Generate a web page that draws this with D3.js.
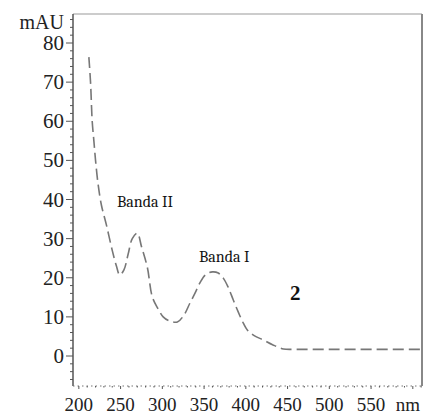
<!DOCTYPE html>
<html>
<head>
<meta charset="utf-8">
<script src="https://cdn.jsdelivr.net/npm/d3@7"></script>
<style>
  body { margin: 0; background: #fff; }
</style>
</head>
<body>
<svg width="431" height="416"></svg>
<script>
// spectrum (nm, mAU)
let wavelength = [212, 214, 216, 218, 220, 223, 227, 233, 240, 245, 249, 254, 259, 264, 270, 275, 282, 288, 295, 301, 308, 318, 326, 333, 339, 345, 352, 360, 367, 373, 379, 385, 391, 397, 402, 410, 421, 432, 445, 460, 500, 550, 611];
let absorb = [76.4, 70, 60, 55, 50, 44, 38.6, 33.5, 27, 23, 20.7, 22, 26, 30, 31.4, 28, 22.7, 15.1, 12, 10, 9, 8.7, 10.5, 13.5, 16, 18.7, 20.8, 21.5, 21.2, 19.9, 17.5, 14.3, 11.2, 8.4, 6.6, 5.2, 4.1, 2.9, 1.8, 1.7, 1.7, 1.7, 1.7];

let yTicks = [0, 10, 20, 30, 40, 50, 60, 70, 80];
let xTicks = [200, 250, 300, 350, 400, 450, 500, 550];

let serif = '"Liberation Serif", "Times New Roman", serif';
let svg = d3.select('svg');

let plotL = 73, plotR = 422, plotT = 14, plotB = 386;

let x = d3.scaleLinear().domain([193, 611]).range([plotL, plotR]);
let y = d3.scaleLinear().domain([0, 80]).range([356, 43]);

// frame: top line and right border
svg.append('line').attr('x1', plotL).attr('x2', plotR).attr('y1', plotT).attr('y2', plotT)
   .attr('stroke', '#bbb').attr('stroke-width', 1.5);
svg.append('line').attr('x1', plotR).attr('x2', plotR).attr('y1', plotT).attr('y2', plotB)
   .attr('stroke', '#888').attr('stroke-width', 2);

// y axis with minor ticks
let yAxis = svg.append('g').attr('transform', `translate(${plotL},0)`);
yAxis.append('line').attr('y1', plotT).attr('y2', plotB).attr('stroke', '#555').attr('stroke-width', 1.5);
let minor = d3.range(-6, 88, 2);
yAxis.selectAll('.minor').data(minor).enter().append('line')
     .attr('x1', d => d % 10 === 0 ? -7 : -3).attr('x2', 0)
     .attr('y1', d => y(d)).attr('y2', d => y(d))
     .attr('stroke', '#555').attr('stroke-width', 1);
yAxis.selectAll('.lab').data(yTicks).enter().append('text')
     .attr('x', -9).attr('y', d => y(d) + 7)
     .attr('text-anchor', 'end').attr('font-size', 21).attr('font-family', serif).attr('fill', '#222')
     .text(d => d);
svg.append('text').attr('x', 64).attr('y', 29).attr('text-anchor', 'end')
   .attr('font-size', 20).attr('font-family', serif).attr('fill', '#222').text('mAU');

// x axis: dotted line with ticks
let xAxis = svg.append('g').attr('transform', `translate(0,${plotB})`);
xAxis.append('line').attr('x1', plotL).attr('x2', plotR)
     .attr('stroke', '#777').attr('stroke-width', 1).attr('stroke-dasharray', '1.5,3');
xAxis.selectAll('.tk').data(d3.range(200, 611, 10)).enter().append('line')
     .attr('x1', d => x(d)).attr('x2', d => x(d))
     .attr('y1', 0).attr('y2', d => d % 50 === 0 ? 3 : 1.5)
     .attr('stroke', '#555').attr('stroke-width', 1);
xAxis.selectAll('.lab').data(xTicks).enter().append('text')
     .attr('x', d => x(d)).attr('y', 25)
     .attr('text-anchor', 'middle').attr('font-size', 19).attr('font-family', serif).attr('fill', '#222')
     .text(d => d);
xAxis.append('text').attr('x', 408).attr('y', 25).attr('text-anchor', 'middle')
     .attr('font-size', 19).attr('font-family', serif).attr('fill', '#222').text('nm');

// spectrum
let pts = wavelength.map((w, i) => [w, absorb[i]]);
let line = d3.line().x(d => x(d[0])).y(d => y(d[1])).curve(d3.curveCatmullRom);
svg.append('path').datum(pts).attr('d', line)
   .attr('fill', 'none').attr('stroke', '#777').attr('stroke-width', 1.6)
   .attr('stroke-dasharray', '11,5');

// annotations
svg.append('text').attr('x', 117).attr('y', 207).attr('font-size', 16)
   .attr('font-family', 'Cambria, ' + serif).attr('fill', '#111').text('Banda II');
svg.append('text').attr('x', 199).attr('y', 262).attr('font-size', 16)
   .attr('font-family', 'Cambria, ' + serif).attr('fill', '#111').text('Banda I');
svg.append('text').attr('x', 290).attr('y', 300).attr('font-size', 21).attr('font-weight', 'bold')
   .attr('font-family', serif).attr('fill', '#111').text('2');
</script>
</body>
</html>
